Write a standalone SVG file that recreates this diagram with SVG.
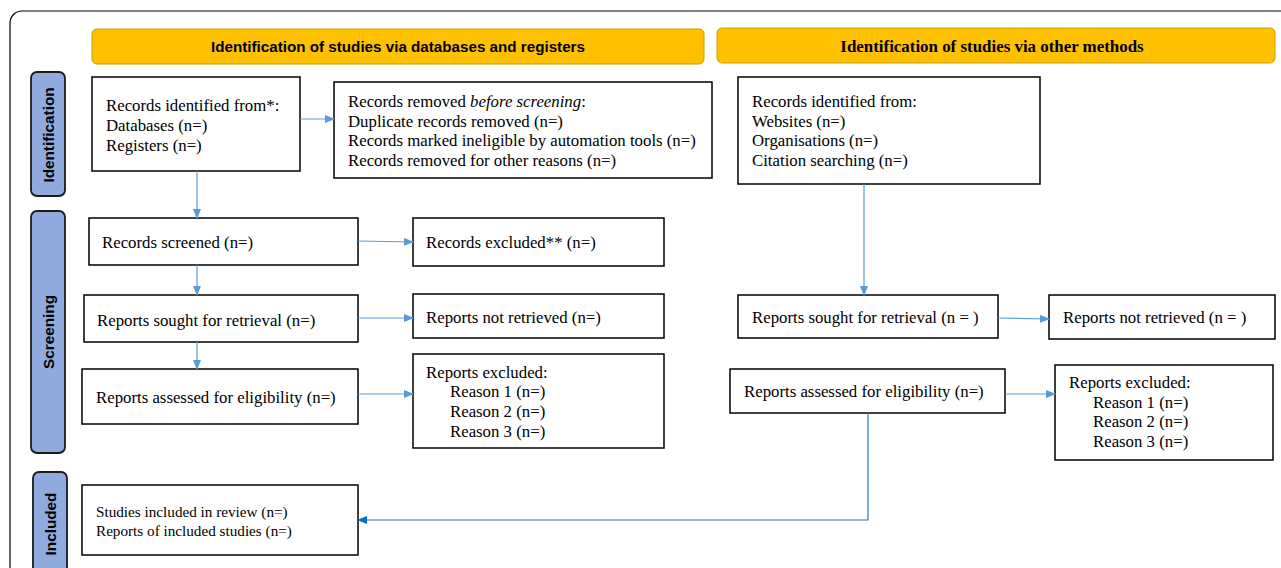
<svg xmlns="http://www.w3.org/2000/svg" width="1281" height="568" viewBox="0 0 1281 568">
<style>
.box{fill:#fff;stroke:#000;stroke-width:1.5}
.hdr{fill:#FFC000;stroke:#C9A000;stroke-width:1}
.side{fill:#8FAADC;stroke:#1a1a1a;stroke-width:1.8}
.t{font-family:"Liberation Serif",serif;font-size:16.8px;fill:#000}
.ts{font-family:"Liberation Serif",serif;font-size:15.2px;fill:#000}
.h1{font-family:"Liberation Sans",sans-serif;font-size:15.2px;font-weight:bold;fill:#000}
.h2{font-family:"Liberation Serif",serif;font-size:16.9px;font-weight:bold;fill:#000}
.sl{font-family:"Liberation Sans",sans-serif;font-size:15.3px;font-weight:bold;fill:#000}
.c{fill:none;stroke:#5B9BD5;stroke-width:1.2}
.c2{fill:none;stroke:#2E75B6;stroke-width:1.2}
</style>
<defs>
<marker id="a" markerWidth="10" markerHeight="8" refX="9" refY="4" orient="auto" markerUnits="userSpaceOnUse"><path d="M0,0 L10,4 L0,8 Z" fill="#5B9BD5"/></marker>
<marker id="a2" markerWidth="10" markerHeight="8" refX="9" refY="4" orient="auto" markerUnits="userSpaceOnUse"><path d="M0,0 L10,4 L0,8 Z" fill="#0070C0"/></marker>
</defs>
<rect x="0" y="0" width="1281" height="568" fill="#fff"/>
<rect x="10" y="11" width="1290" height="580" rx="12" fill="none" stroke="#000" stroke-width="1.2"/>

<g id="hdr-db"><rect class="hdr" x="92" y="29" width="612" height="35" rx="5"/><text class="h1" x="398" y="52" text-anchor="middle">Identification of studies via databases and registers</text></g>
<g id="hdr-other"><rect class="hdr" x="717" y="28" width="558" height="35" rx="5"/><text class="h2" x="992" y="52" text-anchor="middle">Identification of studies via other methods</text></g>

<g id="side-identification"><rect class="side" x="31" y="72" width="34" height="124" rx="6"/><text class="sl" transform="translate(54,135) rotate(-90)" text-anchor="middle">Identification</text></g>
<g id="side-screening"><rect class="side" x="31" y="211" width="34" height="242" rx="6"/><text class="sl" transform="translate(54,332) rotate(-90)" text-anchor="middle">Screening</text></g>
<g id="side-included"><rect class="side" x="33" y="472" width="34" height="110" rx="6"/><text class="sl" transform="translate(56,524) rotate(-90)" text-anchor="middle">Included</text></g>

<g id="n-records-identified"><rect class="box" x="92" y="77" width="208" height="94"/>
<text class="t" x="106" y="111">Records identified from*:</text>
<text class="t" x="106" y="131">Databases (n=)</text>
<text class="t" x="106" y="151">Registers (n=)</text></g>

<g id="n-records-removed"><rect class="box" x="334" y="82" width="378" height="96"/>
<text class="t" x="348" y="107">Records removed <tspan font-style="italic">before screening</tspan>:</text>
<text class="t" x="348" y="127">Duplicate records removed (n=)</text>
<text class="t" x="348" y="146">Records marked ineligible by automation tools (n=)</text>
<text class="t" x="348" y="166">Records removed for other reasons (n=)</text></g>

<g id="n-records-screened"><rect class="box" x="89" y="218" width="269" height="47"/>
<text class="t" x="102" y="248">Records screened (n=)</text></g>

<g id="n-records-excluded"><rect class="box" x="413" y="218" width="251" height="48"/>
<text class="t" x="426" y="248">Records excluded** (n=)</text></g>

<g id="n-reports-sought"><rect class="box" x="84" y="295" width="274" height="47"/>
<text class="t" x="97" y="326">Reports sought for retrieval (n=)</text></g>

<g id="n-reports-not-retrieved"><rect class="box" x="413" y="294" width="251" height="44"/>
<text class="t" x="426" y="323">Reports not retrieved (n=)</text></g>

<g id="n-reports-assessed"><rect class="box" x="82" y="369" width="276" height="55"/>
<text class="t" x="96" y="403">Reports assessed for eligibility (n=)</text></g>

<g id="n-reports-excluded"><rect class="box" x="413" y="354" width="251" height="94"/>
<text class="t" x="426" y="378">Reports excluded:</text>
<text class="t" x="450" y="397">Reason 1 (n=)</text>
<text class="t" x="450" y="417">Reason 2 (n=)</text>
<text class="t" x="450" y="437">Reason 3 (n=)</text></g>

<g id="n-studies-included"><rect class="box" x="82" y="485" width="276" height="70"/>
<text class="ts" x="96" y="517">Studies included in review (n=)</text>
<text class="ts" x="96" y="536">Reports of included studies (n=)</text></g>

<g id="n-other-identified"><rect class="box" x="738" y="77" width="302" height="107"/>
<text class="t" x="752" y="107">Records identified from:</text>
<text class="t" x="752" y="127">Websites (n=)</text>
<text class="t" x="752" y="146">Organisations (n=)</text>
<text class="t" x="752" y="166">Citation searching (n=)</text></g>

<g id="n-other-sought"><rect class="box" x="738" y="295" width="260" height="43"/>
<text class="t" x="752" y="323">Reports sought for retrieval (n = )</text></g>

<g id="n-other-not-retrieved"><rect class="box" x="1049" y="295" width="226" height="44"/>
<text class="t" x="1063" y="323">Reports not retrieved (n = )</text></g>

<g id="n-other-assessed"><rect class="box" x="730" y="369" width="275" height="44"/>
<text class="t" x="744" y="397">Reports assessed for eligibility (n=)</text></g>

<g id="n-other-excluded"><rect class="box" x="1055" y="365" width="218" height="95"/>
<text class="t" x="1069" y="388">Reports excluded:</text>
<text class="t" x="1093" y="408">Reason 1 (n=)</text>
<text class="t" x="1093" y="427">Reason 2 (n=)</text>
<text class="t" x="1093" y="447">Reason 3 (n=)</text></g>

<g id="connectors">
<path class="c" d="M300,119 H334" marker-end="url(#a)"/>
<path class="c" d="M197,171 V218" marker-end="url(#a)"/>
<path class="c" d="M358,241 L413,242" marker-end="url(#a)"/>
<path class="c" d="M197,265 V295" marker-end="url(#a)"/>
<path class="c" d="M358,318 H413" marker-end="url(#a)"/>
<path class="c" d="M197,342 V369" marker-end="url(#a)"/>
<path class="c" d="M358,394 H413" marker-end="url(#a)"/>
<path class="c" d="M864,184 V295" marker-end="url(#a)"/>
<path class="c" d="M998,318 L1049,319" marker-end="url(#a)"/>
<path class="c" d="M1005,394 H1055" marker-end="url(#a)"/>
<path class="c2" d="M868,413 V520 H358" marker-end="url(#a2)"/>
</g>
</svg>
